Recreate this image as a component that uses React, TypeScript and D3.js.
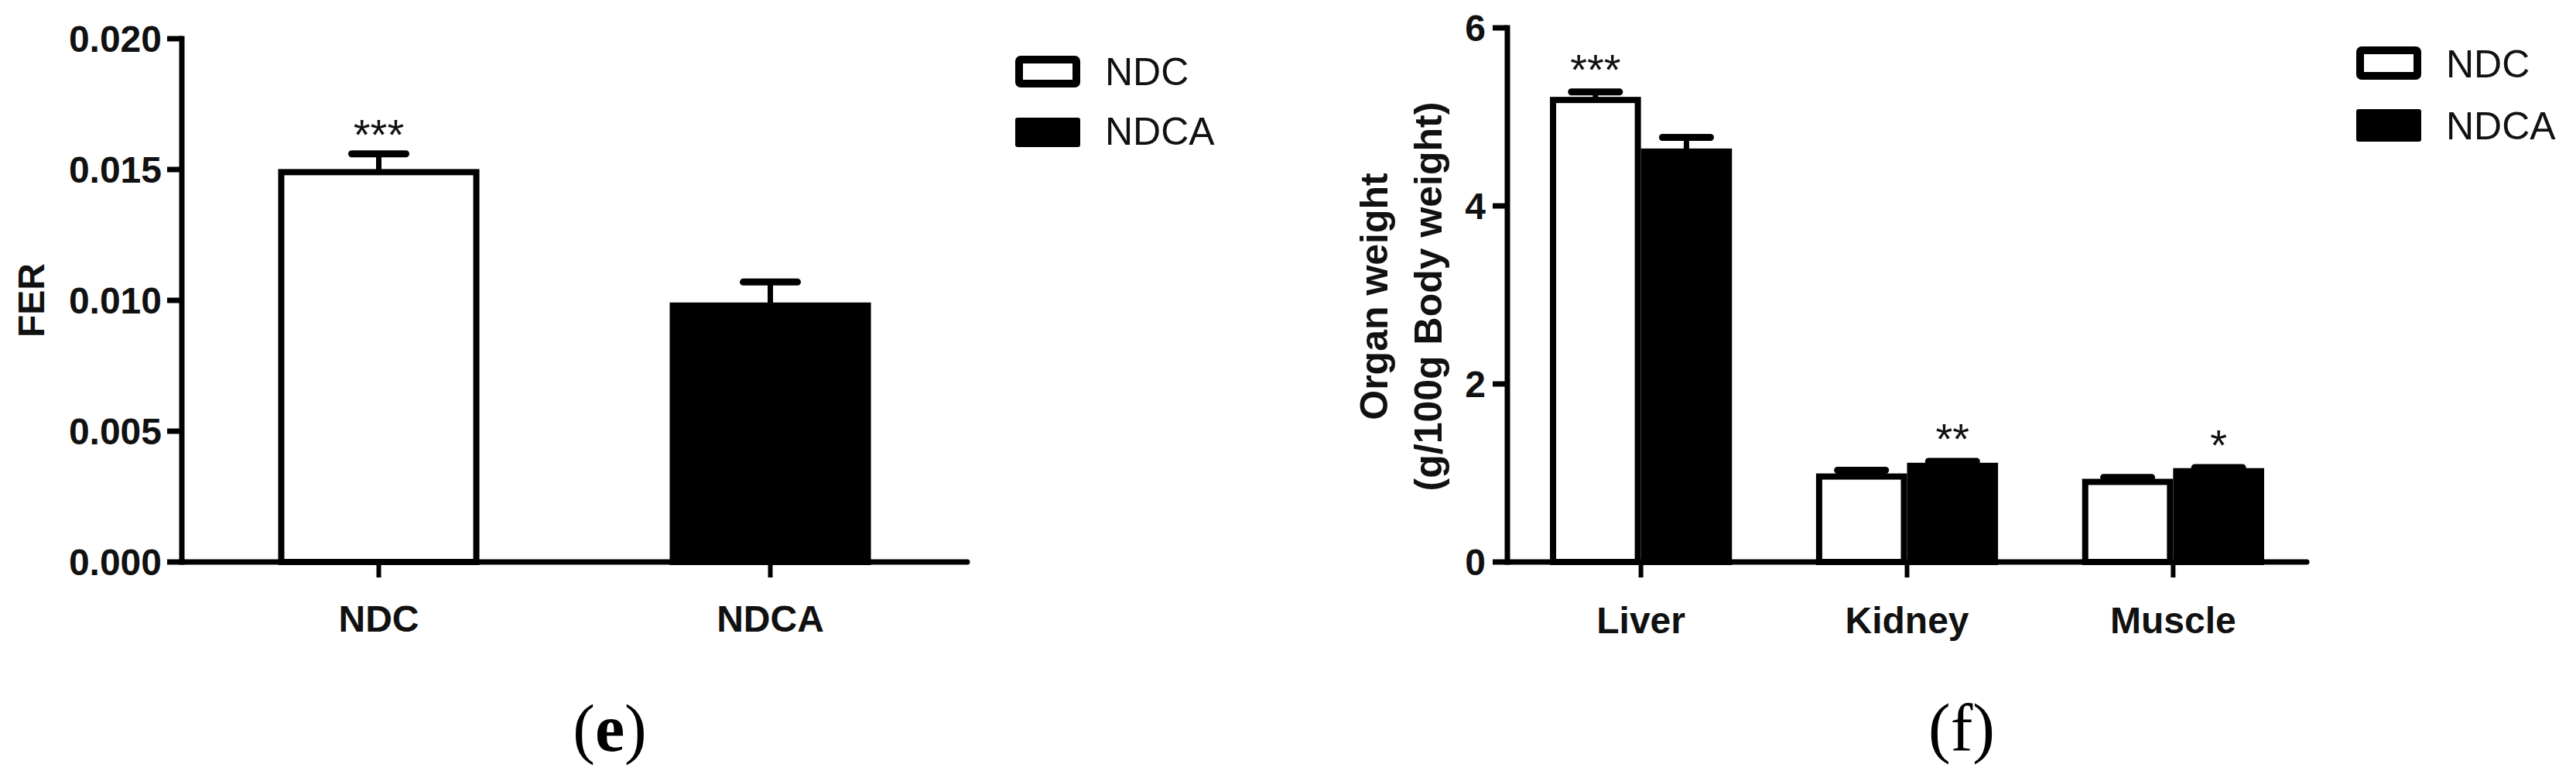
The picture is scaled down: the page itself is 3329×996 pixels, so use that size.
import React from "react";
import * as d3 from "d3";

// ---------- data ----------
const ferCategories = ["NDC", "NDCA"];
const ferMeans = [0.0149, 0.0098];
const ferSem = [0.0007, 0.0009];
const ferSig = ["***", ""];
const ferTicks = [0, 0.005, 0.01, 0.015, 0.02];

const organCategories = ["Liver", "Kidney", "Muscle"];
const groups = ["NDC", "NDCA"];
const organNdc = [5.19, 0.96, 0.9];
const organNdcSem = [0.09, 0.07, 0.05];
const organNdca = [4.61, 1.08, 1.02];
const organNdcaSem = [0.16, 0.05, 0.04];
const organNdcSig = ["***", "", ""];
const organNdcaSig = ["", "**", "*"];
const organTicks = [0, 2, 4, 6];

const groupFill = ["#ffffff", "#000000"];

const SANS = "'Liberation Sans', Arial, sans-serif";
const SERIF = "'Liberation Serif', 'Times New Roman', serif";

function ErrorBar({ cx, yTop, yVal, capW }: { cx: number; yTop: number; yVal: number; capW: number }) {
  return (
    <g>
      <line x1={cx} x2={cx} y1={yVal} y2={yTop} stroke="#000" strokeWidth={7} />
      <line x1={cx - capW / 2} x2={cx + capW / 2} y1={yTop} y2={yTop} stroke="#000" strokeWidth={9} strokeLinecap="round" />
    </g>
  );
}

function Legend({ x, y1, y2, boxW, h1, h2 }: { x: number; y1: number; y2: number; boxW: number; h1: number; h2: number }) {
  return (
    <g>
      <rect x={x + 5} y={y1 + 5} width={boxW - 10} height={h1 - 10} fill="#fff" stroke="#000" strokeWidth={10} rx={2} />
      <rect x={x} y={y2} width={boxW} height={h2} fill="#000" rx={3} />
      <text x={x + boxW + 32} y={y1 + h1 - 3} fontFamily={SANS} fontSize={50} fill="#111">{groups[0]}</text>
      <text x={x + boxW + 32} y={y2 + h2 - 3} fontFamily={SANS} fontSize={50} fill="#111">{groups[1]}</text>
    </g>
  );
}

function FerChart() {
  const y = d3.scaleLinear().domain([0, 0.02]).range([726, 50]);
  const x = d3.scaleBand<string>().domain(ferCategories).range([235, 1250]).paddingInner(0.486).paddingOuter(0.246);
  const bw = x.bandwidth();
  const fmt = d3.format(".3f");
  return (
    <g>
      {ferCategories.map((c, i) => {
        const x0 = x(c)!;
        const cx = x0 + bw / 2;
        const yv = y(ferMeans[i]);
        const ye = y(ferMeans[i] + ferSem[i]);
        return (
          <g key={c}>
            <ErrorBar cx={cx} yTop={ye} yVal={yv} capW={70} />
            <rect x={x0 + 4} y={yv} width={bw - 8} height={y(0) - yv} fill={groupFill[i]} stroke="#000" strokeWidth={8} />
            {ferSig[i] && (
              <text x={cx} y={ye - 38 + 32} textAnchor="middle" fontFamily={SANS} fontSize={56} fill="#111">{ferSig[i]}</text>
            )}
          </g>
        );
      })}
      {/* axes */}
      <line x1={235} x2={235} y1={y(0.02)} y2={y(0)} stroke="#000" strokeWidth={7} strokeLinecap="square" />
      <line x1={235} x2={1250} y1={y(0)} y2={y(0)} stroke="#000" strokeWidth={7} strokeLinecap="round" />
      {ferTicks.map((t) => (
        <g key={t}>
          <line x1={216} x2={235} y1={y(t)} y2={y(t)} stroke="#000" strokeWidth={7} />
          <text x={209} y={y(t) + 17} textAnchor="end" fontFamily={SANS} fontWeight="bold" fontSize={48} fill="#111">{fmt(t)}</text>
        </g>
      ))}
      {ferCategories.map((c) => (
        <g key={c}>
          <line x1={x(c)! + bw / 2} x2={x(c)! + bw / 2} y1={y(0)} y2={y(0) + 20} stroke="#000" strokeWidth={6} />
          <text x={x(c)! + bw / 2} y={816} textAnchor="middle" fontFamily={SANS} fontWeight="bold" fontSize={48} fill="#111">{c}</text>
        </g>
      ))}
      <text transform={`translate(57, ${(y(0) + y(0.02)) / 2}) rotate(-90)`} textAnchor="middle" fontFamily={SANS} fontWeight="bold" fontSize={48} fill="#111">FER</text>
      <Legend x={1312} y1={72} y2={152} boxW={84} h1={41} h2={38} />
      <text x={788} y={970} textAnchor="middle" fontFamily={SERIF} fontSize={86} fill="#000">(<tspan fontWeight="bold">e</tspan>)</text>
    </g>
  );
}

function OrganChart() {
  const y = d3.scaleLinear().domain([0, 6]).range([726, 36]);
  const x0 = d3.scaleBand<string>().domain(organCategories).range([1948, 2981]).paddingInner(0.316).paddingOuter(0.16);
  const x1 = d3.scaleBand<string>().domain(groups).range([0, x0.bandwidth()]);
  const bw = x1.bandwidth();
  const series = [
    { name: groups[0], means: organNdc, sem: organNdcSem, sig: organNdcSig },
    { name: groups[1], means: organNdca, sem: organNdcaSem, sig: organNdcaSig },
  ];
  return (
    <g>
      {organCategories.map((c, ci) => (
        <g key={c}>
          {series.map((s, si) => {
            const bx = x0(c)! + x1(s.name)!;
            const cx = bx + bw / 2;
            const yv = y(s.means[ci]);
            const ye = y(s.means[ci] + s.sem[ci]);
            return (
              <g key={s.name}>
                <ErrorBar cx={cx} yTop={ye} yVal={yv} capW={62} />
                <rect x={bx + 4} y={yv} width={bw - 8} height={y(0) - yv} fill={groupFill[si]} stroke="#000" strokeWidth={8} />
                {s.sig[ci] && (
                  <text x={cx} y={ye - 42 + 32} textAnchor="middle" fontFamily={SANS} fontSize={56} fill="#111">{s.sig[ci]}</text>
                )}
              </g>
            );
          })}
        </g>
      ))}
      <line x1={1948} x2={1948} y1={y(6)} y2={y(0)} stroke="#000" strokeWidth={7} strokeLinecap="square" />
      <line x1={1948} x2={2981} y1={y(0)} y2={y(0)} stroke="#000" strokeWidth={7} strokeLinecap="round" />
      {organTicks.map((t) => (
        <g key={t}>
          <line x1={1929} x2={1948} y1={y(t)} y2={y(t)} stroke="#000" strokeWidth={7} />
          <text x={1920} y={y(t) + 17} textAnchor="end" fontFamily={SANS} fontWeight="bold" fontSize={48} fill="#111">{t}</text>
        </g>
      ))}
      {organCategories.map((c) => (
        <g key={c}>
          <line x1={x0(c)! + x0.bandwidth() / 2} x2={x0(c)! + x0.bandwidth() / 2} y1={y(0)} y2={y(0) + 20} stroke="#000" strokeWidth={6} />
          <text x={x0(c)! + x0.bandwidth() / 2} y={818} textAnchor="middle" fontFamily={SANS} fontWeight="bold" fontSize={48} fill="#111">{c}</text>
        </g>
      ))}
      <text transform={`translate(1793, 383) rotate(-90)`} textAnchor="middle" fontFamily={SANS} fontWeight="bold" fontSize={50} fill="#111">Organ weight</text>
      <text transform={`translate(1863, 383) rotate(-90)`} textAnchor="middle" fontFamily={SANS} fontWeight="bold" fontSize={50} fill="#111">(g/100g Body weight)</text>
      <Legend x={3045} y1={60} y2={141} boxW={84} h1={43} h2={42} />
      <text x={2535} y={969} textAnchor="middle" fontFamily={SERIF} fontSize={86} fill="#000">(f)</text>
    </g>
  );
}

export default function App() {
  return (
    <svg width={3329} height={996} viewBox="0 0 3329 996" style={{ position: "absolute", left: 0, top: 0, background: "#fff" }}>
      <rect x={0} y={0} width={3329} height={996} fill="#fff" />
      <FerChart />
      <OrganChart />
    </svg>
  );
}
